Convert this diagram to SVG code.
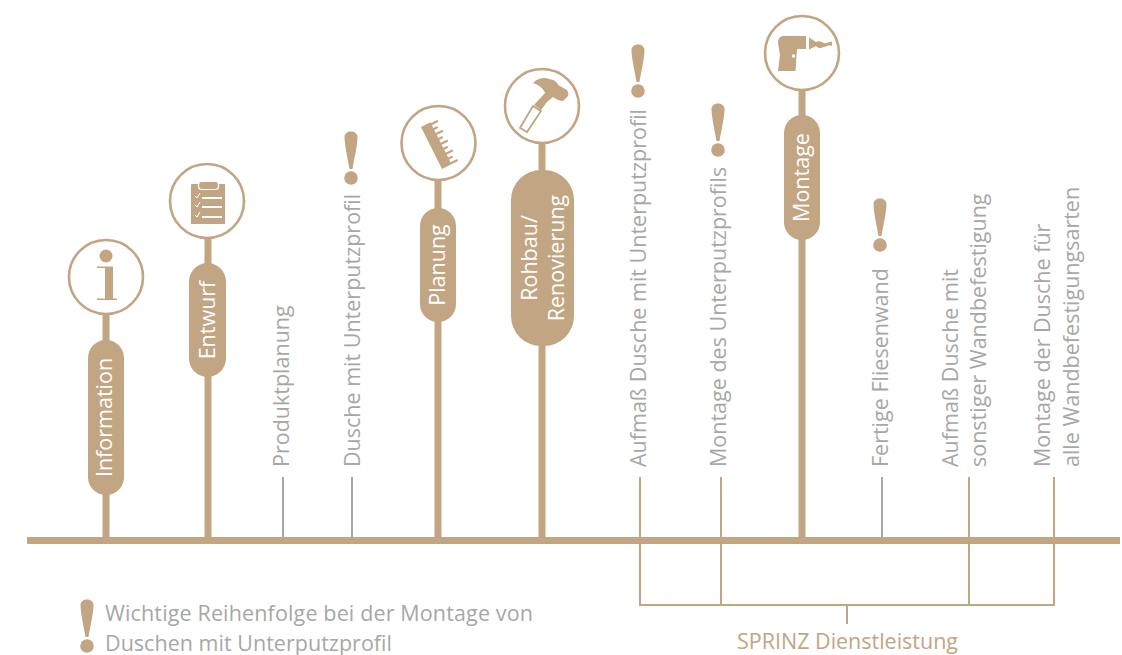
<svg xmlns="http://www.w3.org/2000/svg" width="1122" height="655" viewBox="0 0 1122 655">
<style>
text{font-family:"Open Sans","Noto Sans","Liberation Sans",sans-serif;font-size:21.5px}
.stem{stroke:#c2a582;stroke-width:7;fill:none}
.thin{stroke:#c2a582;stroke-width:2;fill:none}
.grey{stroke:#a7a7a7;stroke-width:2;fill:none}
.ring{fill:#fff;stroke:#c2a582;stroke-width:2.600}
.pill{fill:#c2a582}
.ico{fill:#c2a582}
.w{fill:#fff}
.wl{stroke:#fff;stroke-width:1.800;fill:none}
.wt{fill:#fff;text-anchor:middle}
.gt{fill:#a7a7a7}
.tt{fill:#c2a582}
</style>
<defs>
<g id="ex">
<path class="ico" d="M-6.500 6C-6.500 -1.500 6.500 -1.500 6.500 6C6.500 14 3 29 1.500 38H-1.500C-3 29 -6.500 14 -6.500 6Z"/>
<circle class="ico" cx="0" cy="47" r="6.800"/>
</g>
</defs>
<g id="connectors">
<path class="thin" d="M640 477V605H1054V477M721 477V605M969 477V605M847 605V624"/>
<path class="grey" d="M283 477V537M352 477V537M882 477V537"/>
<path class="stem" d="M27 540.500H1120"/>
<path class="stem" d="M106 310V540M208 236V540M438 178V540M542 140V540M802 88V540"/>
</g>
<g id="information">
<rect class="pill" x="88" y="340" width="36" height="155" rx="18"/>
<circle class="ring" cx="106" cy="277" r="37"/>
<circle class="ico" cx="106" cy="256" r="6.500"/>
<path class="ico" d="M97 266.500H113V298.500H117V300H97V298.500H105V268H97Z"/>
<text class="wt" transform="translate(112 417.500) rotate(-90)">Information</text>
</g>
<g id="entwurf">
<rect class="pill" x="189" y="263" width="37" height="114" rx="18.500"/>
<circle class="ring" cx="207" cy="201" r="37"/>
<path class="ico" d="M191 185Q191 184 192 184H225V224H191Z"/>
<rect x="198.500" y="181.500" width="20" height="8" rx="3" fill="#c2a582" stroke="#fff" stroke-width="1.200"/>
<path class="wl" d="M202 198H222M202 207H222M202 217H222"/>
<path stroke="#fff" stroke-width="1" fill="none" d="M195 196L197 198 200 193M195 205L197 207 200 202M195 215L197 217 200 212"/>
<text class="wt" transform="translate(215 320) rotate(-90)">Entwurf</text>
</g>
<g id="produktplanung">
<text class="gt" transform="translate(289 467) rotate(-90)">Produktplanung</text>
</g>
<g id="dusche-unterputz">
<use href="#ex" x="351" y="131"/>
<text class="gt" transform="translate(360 467) rotate(-90)">Dusche mit Unterputzprofil</text>
</g>
<g id="planung">
<rect class="pill" x="420" y="208" width="36" height="114" rx="18"/>
<circle class="ring" cx="438.500" cy="143" r="37"/>
<g class="ico" transform="translate(421 127) rotate(-26.600)">
<rect x="0" y="0" width="10.500" height="47"/>
<rect x="10" y="1" width="8" height="2.200"/>
<rect x="10" y="6.500" width="5" height="2.200"/>
<rect x="10" y="12" width="8" height="2.200"/>
<rect x="10" y="17.500" width="5" height="2.200"/>
<rect x="10" y="23" width="8" height="2.200"/>
<rect x="10" y="28.500" width="5" height="2.200"/>
<rect x="10" y="34" width="8" height="2.200"/>
<rect x="10" y="39.500" width="5" height="2.200"/>
<rect x="10" y="44.800" width="8" height="2.200"/>
</g>
<text class="wt" transform="translate(445 265) rotate(-90)">Planung</text>
</g>
<g id="rohbau">
<rect class="pill" x="511" y="170" width="63" height="176" rx="30"/>
<circle class="ring" cx="542" cy="106" r="37"/>
<path class="ico" d="M533 83C537 78 545 77 549 79C555 80 558 83 558 85L567 90C568 92 569 94 568 96L563 101C559 101 556 99 553 97L547 102L541 110L534 105L545 93C544 90 540 85 533 83Z"/>
<path fill="#fff" stroke="#c2a582" stroke-width="1.800" d="M533 106L541 111 527 132 520 128Z"/>
<text class="wt" transform="translate(537 258) rotate(-90)">Rohbau/</text>
<text class="wt" transform="translate(564 258) rotate(-90)">Renovierung</text>
</g>
<g id="aufmass-unterputz">
<use href="#ex" x="638" y="44"/>
<text class="gt" transform="translate(646 467) rotate(-90)">Aufmaß Dusche mit Unterputzprofil</text>
</g>
<g id="montage-unterputz">
<use href="#ex" x="718" y="103"/>
<text class="gt" transform="translate(726 467) rotate(-90)">Montage des Unterputzprofils</text>
</g>
<g id="montage">
<rect class="pill" x="784" y="115" width="36" height="125" rx="18"/>
<circle class="ring" cx="802" cy="53" r="37"/>
<path class="ico" d="M783 36H806V49H797L795.500 71H778L780 55 778 43C778 39 780 36 783 36Z"/>
<circle class="w" cx="793.500" cy="56" r="1.800"/>
<path class="ico" d="M809 37.500L816 42C819 40 822 42 824 43C827 44 829 41 832 42V46C829 45 827 46 824 47C821 48 819 49 816 46L809 49.500Z"/>
<text class="wt" transform="translate(809 177.500) rotate(-90)">Montage</text>
</g>
<g id="fertige-fliesenwand">
<use href="#ex" x="880" y="198"/>
<text class="gt" transform="translate(888 467) rotate(-90)">Fertige Fliesenwand</text>
</g>
<g id="aufmass-sonstige">
<text class="gt" transform="translate(958 467) rotate(-90)">Aufmaß Dusche mit</text>
<text class="gt" transform="translate(986 467) rotate(-90)">sonstiger Wandbefestigung</text>
</g>
<g id="montage-alle">
<text class="gt" transform="translate(1050 467) rotate(-90)">Montage der Dusche für</text>
<text class="gt" transform="translate(1079 467) rotate(-90)">alle Wandbefestigungsarten</text>
</g>
<g id="legende">
<use href="#ex" x="87" y="599"/>
<text class="gt" x="105" y="621" textLength="428">Wichtige Reihenfolge bei der Montage von</text>
<text class="gt" x="105" y="651" textLength="287">Duschen mit Unterputzprofil</text>
</g>
<g id="sprinz">
<text class="tt" x="737" y="649" textLength="221">SPRINZ Dienstleistung</text>
</g>
</svg>
